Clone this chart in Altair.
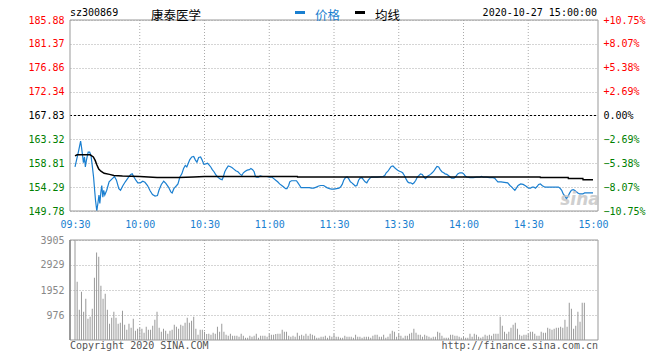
import altair as alt
import pandas as pd

# ---------------- values ----------------
code = "sz300869"
name = "康泰医学"
stamp = "2020-10-27 15:00:00"
series_names = ["价格", "均线"]
prev_close = 167.83

time_ticks = [0, 30, 60, 90, 120, 150, 180, 210, 240]
time_labels = ["09:30", "10:00", "10:30", "11:00", "11:30", "13:30", "14:00", "14:30", "15:00"]
price_ticks = [185.88, 181.37, 176.86, 172.34, 167.83, 163.32, 158.81, 154.29, 149.78]
pct_ticks = [10.75, 8.07, 5.38, 2.69, 0.0, -2.69, -5.38, -8.07, -10.75]
vol_ticks = [976, 1952, 2929, 3905]

# (minute index, price) morning session 09:30-11:30
price_am = [
    (0, 158.1), (1.7, 161.2), (2.6, 163.0), (3.0, 161.9), (3.5, 160.3), (3.9, 158.9), (4.4, 160.0),
    (4.8, 158.1), (5.3, 159.4), (6.1, 160.9), (6.8, 160.9), (7.4, 160.3), (7.9, 158.7), (8.6, 156.2),
    (9.1, 153.7), (9.5, 151.8), (10.1, 149.8), (10.6, 151.2), (11.1, 152.8), (11.5, 151.2), (12.0, 153.4),
    (12.4, 154.6), (12.9, 152.4), (13.3, 153.7), (13.8, 152.8), (14.7, 153.7), (15.8, 155.3), (17.3, 155.9),
    (18.3, 156.3), (19.2, 155.6), (20.3, 154.0), (21.1, 153.7), (22.1, 154.5), (23.3, 155.3), (24.5, 156.0),
    (25.8, 156.7), (26.5, 156.8), (27.3, 156.2), (28.2, 155.6), (29.1, 155.1), (30.3, 155.1), (31.4, 155.4),
    (32.4, 155.2), (33.6, 154.6), (34.8, 153.6), (35.9, 152.9), (37.1, 152.6), (38.2, 152.7), (38.9, 153.7),
    (40.0, 154.8), (41.1, 155.4), (42.1, 155.0), (43.3, 154.3), (44.4, 153.4), (45.0, 153.2), (45.8, 154.0),
    (46.4, 154.3), (47.1, 154.6), (47.7, 154.9), (48.6, 156.2), (49.5, 156.8), (50.3, 157.8), (51.1, 158.4),
    (51.8, 158.1), (52.4, 158.7), (53.2, 159.5), (54.1, 160.0), (55.0, 160.1), (55.8, 159.4), (56.5, 159.0),
    (57.3, 159.9), (58.2, 160.0), (58.9, 159.4), (59.7, 158.6), (60.6, 158.7), (61.4, 158.8), (62.1, 158.5),
    (62.9, 158.1), (63.6, 157.6), (64.4, 157.2), (65.1, 156.7), (65.9, 156.3), (66.7, 156.0), (67.4, 155.8),
    (68.2, 155.7), (68.6, 156.1), (69.4, 157.2), (70.2, 157.8), (71.0, 158.3), (71.8, 158.2), (72.7, 158.0),
    (73.6, 157.7), (74.5, 157.4), (75.5, 157.2), (76.4, 156.8), (77.3, 156.5), (78.0, 157.0), (78.9, 157.3),
    (79.8, 157.5), (80.8, 157.6), (81.5, 157.8), (82.3, 157.6), (83.0, 157.2), (83.6, 156.3), (84.2, 156.2),
    (85.0, 156.2), (85.8, 156.4), (87.0, 156.3), (89.0, 156.3), (90.1, 156.2), (91.2, 156.2), (92.1, 155.9),
    (93.0, 155.6), (93.9, 155.3), (94.8, 154.9), (95.8, 154.6), (96.7, 154.3), (97.6, 154.0), (98.2, 154.0),
    (99.0, 154.6), (99.5, 155.3), (100.3, 155.5), (101.5, 155.5), (102.6, 155.5), (103.3, 155.1), (104.1, 154.6),
    (104.7, 154.2), (106.1, 154.2), (107.6, 154.2), (108.6, 154.2), (109.5, 154.1), (110.6, 154.1), (111.8, 154.3),
    (112.9, 154.5), (113.9, 154.6), (115.2, 154.6), (115.9, 154.4), (116.7, 154.2), (117.9, 154.0), (118.9, 153.9),
    (120.0, 153.9),
]
# (minute index, price) afternoon session 13:00-15:00 (index 120 = 11:30/13:00)
price_pm = [
    (121.2, 154.0), (122.3, 154.1), (123.0, 154.3), (123.8, 154.8), (124.5, 155.6), (125.3, 156.1), (126.1, 156.2),
    (126.8, 155.9), (127.6, 155.3), (128.3, 155.1), (129.1, 154.8), (129.8, 154.5), (130.6, 154.6), (131.4, 155.6),
    (132.1, 156.0), (132.9, 156.1), (133.6, 155.7), (134.4, 155.3), (135.2, 155.1), (135.9, 155.6), (136.7, 156.0),
    (137.4, 156.2), (140.0, 156.2), (142.7, 156.3), (143.5, 156.5), (144.2, 157.0), (145.0, 157.3), (145.8, 157.8),
    (146.5, 158.2), (147.3, 158.3), (148.0, 158.0), (148.8, 157.7), (149.5, 157.5), (150.3, 157.3), (151.0, 157.2),
    (151.8, 157.0), (152.6, 156.5), (153.3, 155.9), (154.1, 155.3), (154.8, 155.1), (155.6, 155.1), (156.4, 154.9),
    (157.1, 155.1), (157.9, 155.6), (158.6, 156.2), (159.4, 156.5), (160.1, 156.8), (160.9, 156.7), (161.7, 156.2),
    (162.4, 155.9), (163.2, 156.3), (163.9, 156.5), (164.7, 156.7), (165.5, 157.0), (166.2, 157.3), (167.0, 157.8),
    (167.7, 158.2), (168.5, 158.1), (169.2, 157.6), (170.0, 157.2), (170.8, 157.0), (171.5, 156.8), (172.3, 156.7),
    (173.0, 156.5), (173.8, 156.2), (174.5, 156.0), (175.6, 156.0), (176.4, 156.3), (177.3, 156.8), (178.3, 157.0),
    (179.4, 157.0), (180.3, 156.7), (180.8, 156.4), (181.5, 156.2), (183.0, 156.1), (184.5, 156.1), (186.1, 156.2),
    (187.6, 156.2), (188.3, 156.3), (189.1, 156.2), (190.6, 156.2), (192.1, 156.1), (193.6, 156.1), (194.4, 156.0),
    (195.2, 155.6), (195.9, 155.3), (197.4, 155.3), (198.9, 155.2), (200.5, 155.1), (201.5, 154.6), (202.4, 154.3),
    (203.0, 154.0), (203.8, 153.7), (204.5, 154.1), (205.3, 154.6), (206.5, 154.9), (207.6, 154.8), (208.5, 154.6),
    (209.5, 154.3), (210.3, 154.1), (211.1, 154.1), (211.8, 154.3), (212.6, 154.3), (213.3, 154.1), (214.1, 154.4),
    (214.8, 154.8), (215.6, 154.9), (216.4, 154.6), (217.1, 154.4), (217.9, 154.3), (224.0, 154.3), (224.7, 154.1),
    (225.5, 153.7), (226.2, 153.0), (227.0, 152.6), (227.7, 152.1), (228.5, 152.6), (229.2, 153.2), (230.0, 153.7),
    (230.8, 153.8), (231.5, 153.7), (232.3, 153.4), (233.0, 153.2), (233.8, 153.0), (235.3, 153.0), (236.1, 153.2),
    (240.0, 153.2),
]
# (minute index, average price)
avg_pts = [
    (0, 160.2), (1, 160.4), (7, 160.4), (8.5, 160.0), (9.4, 159.3), (10, 158.6), (11, 157.7), (12, 157.3),
    (13.5, 156.9), (16, 156.7), (18, 156.5), (22, 156.4), (30, 156.3), (38, 156.1), (48, 156.1), (55, 156.2),
    (60, 156.3), (103, 156.3), (103.1, 156.2), (215.5, 156.2), (215.6, 156.1), (228.5, 156.1), (228.6, 155.9),
    (235.3, 155.9), (235.4, 155.7), (240, 155.7),
]
# volume per minute, 09:30..11:30 (121 bars)
vol_am = [
    3905,
    2275, 1183, 1885, 1105, 1612, 832, 910, 1222, 2431, 3419, 3250, 2119, 1612, 1807, 1183,
    637, 871, 1105, 871, 637, 676, 1144, 598, 403, 637, 481, 832, 364, 442, 481,
    442, 286, 520, 403, 403, 559, 793, 1105, 481, 325, 442, 364, 247, 364, 403,
    598, 520, 442, 598, 559, 676, 871, 676, 754, 910, 442, 208, 403, 403, 325,
    234, 247, 208, 286, 247, 520, 325, 637, 325, 208, 169, 247, 169, 169, 169,
    130, 247, 169, 91, 91, 169, 130, 169, 247, 91, 169, 169, 169, 130, 247,
    208, 208, 234, 247, 247, 403, 325, 325, 169, 130, 169, 130, 286, 169, 208,
    169, 247, 169, 247, 208, 169, 91, 91, 130, 130, 169, 91, 169, 130, 247,
]
# volume per minute, 13:01..15:00 (120 bars)
vol_pm = [
    130, 130, 91, 91, 169, 130, 130, 130, 91, 208, 130, 130, 91, 130, 130,
    130, 91, 169, 208, 208, 130, 130, 208, 91, 130, 247, 364, 325, 130, 247,
    169, 91, 169, 169, 247, 286, 442, 286, 208, 208, 130, 208, 169, 130, 91,
    130, 130, 325, 286, 169, 91, 91, 91, 208, 208, 169, 169, 130, 91, 130,
    91, 91, 247, 130, 247, 208, 130, 91, 130, 208, 169, 208, 169, 247, 247,
    247, 910, 559, 325, 247, 325, 481, 598, 676, 442, 208, 169, 208, 208, 247,
    325, 325, 247, 169, 169, 325, 286, 286, 481, 442, 403, 442, 481, 481, 520,
    481, 793, 520, 1456, 1222, 442, 559, 1105, 715, 1456, 1456, 0, 0, 0, 0,
]

# ---------------- styling / layout ----------------
BLUE = "#1a7fd0"
GRID = "#aaaaaa"
FRAME = "#999999"
MONO = "DejaVu Sans Mono"
CJK = "DejaVu Sans, Noto Sans CJK SC"
W, H = 528, 320
PB = 191          # price panel bottom (px in plot area)
VT, VB = 220, 320  # volume panel top/bottom

price_df = pd.DataFrame(price_am + price_pm, columns=["i", "v"])
avg_df = pd.DataFrame(avg_pts, columns=["i", "v"])
vol_df = pd.DataFrame({"i": list(range(len(vol_am) + len(vol_pm))), "vol": vol_am + vol_pm})
one = pd.DataFrame({"k": [0]})

time_expr = "[" + ",".join(f"'{t}'" for t in time_labels) + "][round(datum.value/30)]"

x_axis = alt.Axis(values=time_ticks, labelExpr=time_expr, orient="bottom", offset=-(H - PB),
                  grid=False, ticks=False, tickSize=0, domain=False, labelPadding=8,
                  labelFont=MONO, labelFontSize=10, labelColor=BLUE, labelFlush=False,
                  labelOverlap=False, title=None)
X = alt.X("i:Q", scale=alt.Scale(domain=[0, 240], nice=False, zero=False), axis=x_axis)

price_scale = alt.Scale(domain=[149.78, 185.88], range=[PB, 0], nice=False, zero=False)
price_axis = alt.Axis(
    values=price_ticks, format=".2f", orient="left", grid=True, gridColor=GRID, gridDash=[1, 2],
    domain=False, ticks=False, tickSize=0, labelPadding=6, labelFont=MONO, labelFontSize=10,
    labelColor={"condition": [{"test": f"datum.value > {prev_close + 0.005}", "value": "#ff0000"},
                              {"test": f"datum.value < {prev_close - 0.005}", "value": "#008000"}],
                "value": "#000000"},
    labelOverlap=False, title=None)
pct_axis = alt.Axis(
    values=pct_ticks, labelExpr="(datum.value > 0 ? '+' : '') + format(datum.value, '.2f') + '%'",
    orient="right", grid=False, domain=False, ticks=False, tickSize=0, labelPadding=5,
    labelFont=MONO, labelFontSize=10,
    labelColor={"condition": [{"test": "datum.value > 0.001", "value": "#ff0000"},
                              {"test": "datum.value < -0.001", "value": "#008000"}],
                "value": "#000000"},
    labelOverlap=False, title=None)
vol_axis = alt.Axis(values=vol_ticks, format="d", orient="left", grid=True, gridColor=GRID,
                    gridDash=[1, 2], domain=False, ticks=False, tickSize=0, labelPadding=6,
                    labelFont=MONO, labelFontSize=10, labelColor="#888888", labelOverlap=False,
                    title=None)

vgrid_df = pd.DataFrame({"i": time_ticks[1:-1]})
vgrid_p = alt.Chart(vgrid_df).mark_rule(color=GRID, strokeDash=[1, 2]).encode(
    x=X, y=alt.value(0), y2=alt.value(PB))
vgrid_v = alt.Chart(vgrid_df).mark_rule(color=GRID, strokeDash=[1, 2]).encode(
    x=X, y=alt.value(VT), y2=alt.value(VB))

vol_bars = alt.Chart(vol_df).mark_bar(color="#999999", size=1).encode(
    x=X, y=alt.Y("vol:Q", scale=alt.Scale(domain=[0, 3905], range=[VB, VT], nice=False), axis=vol_axis))

price_line = alt.Chart(price_df).mark_line(color=BLUE, strokeWidth=1.2).encode(
    x=X, y=alt.Y("v:Q", scale=price_scale, axis=price_axis))
avg_line = alt.Chart(avg_df).mark_line(color="black", strokeWidth=1.5).encode(
    x=X, y=alt.Y("v:Q", scale=price_scale, axis=None))

zero_rule = alt.Chart(pd.DataFrame({"p": [0.0]})).mark_rule(color="black", strokeDash=[2, 2]).encode(
    x=alt.value(0), x2=alt.value(W),
    y=alt.Y("p:Q", scale=alt.Scale(domain=[-10.75, 10.75], range=[PB, 0], nice=False, zero=False),
            axis=pct_axis))

frame_p = alt.Chart(one).mark_rect(fillOpacity=0, stroke=FRAME, strokeWidth=1).encode(
    x=alt.value(0), x2=alt.value(W), y=alt.value(0), y2=alt.value(PB))
frame_v = alt.Chart(one).mark_rect(fillOpacity=0, stroke=FRAME, strokeWidth=1).encode(
    x=alt.value(0), x2=alt.value(W), y=alt.value(VT), y2=alt.value(VB))
left_v = alt.Chart(one).mark_rule(color="#888888", strokeWidth=1.5).encode(
    x=alt.value(0), y=alt.value(VT), y2=alt.value(VB))


def txt(s, x, y, color="black", font=MONO, size=10, align="left", **kw):
    return alt.Chart(one).mark_text(text=s, align=align, baseline="middle", font=font,
                                    fontSize=size, color=color, **kw).encode(
        x=alt.value(x), y=alt.value(y))


def swatch(color, x0, x1):
    return alt.Chart(one).mark_rect(color=color).encode(
        x=alt.value(x0), x2=alt.value(x1), y=alt.value(-9), y2=alt.value(-6))


texts = [
    txt(code, 0, -7),
    txt(name, 81, -4, font=CJK, size=12.5),
    swatch(BLUE, 225, 235),
    txt(series_names[0], 245, -4, color=BLUE, font=CJK, size=12.5),
    swatch("black", 285, 295),
    txt(series_names[1], 305, -4, font=CJK, size=12.5),
    txt(stamp, 527, -7, align="right"),
    txt("sina", 510, 180, color="#c4c4c4", font="DejaVu Sans", size=17, align="center",
        fontStyle="italic", fontWeight="bold", opacity=0.8),
    txt("Copyright 2020 SINA.COM", 0, 326, color="#555555"),
    txt("http://finance.sina.com.cn", 528, 326, color="#555555", align="right"),
]

chart = alt.layer(
    vgrid_p, vgrid_v, vol_bars, price_line, avg_line, zero_rule, frame_p, frame_v, left_v, *texts
).resolve_scale(y="independent").properties(
    width=W, height=H,
    autosize=alt.AutoSizeParams(type="none"),
    padding={"left": 62, "top": 12, "right": 54, "bottom": 12},
).configure_view(strokeWidth=0)

chart.save("out.html", embed_options={"renderer": "svg", "actions": False})
